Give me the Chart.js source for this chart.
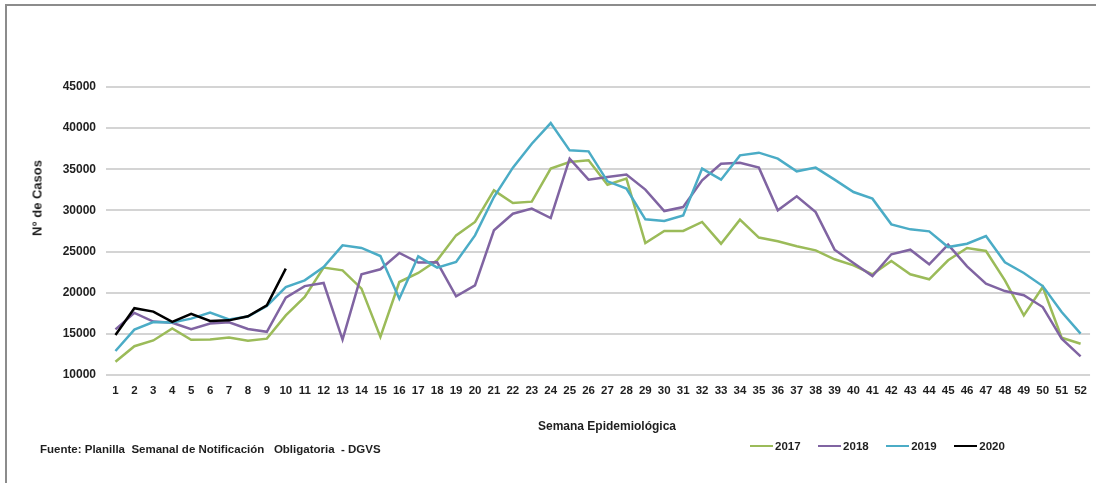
<!DOCTYPE html>
<html>
<head>
<meta charset="utf-8">
<script src="https://cdn.jsdelivr.net/npm/chart.js@4/dist/chart.umd.min.js"></script>
<style>
    body { margin: 0; width: 1096px; height: 483px; overflow: hidden; position: relative; background: #fff;
           font-family: 'Liberation Sans', Arial, sans-serif; font-weight: bold; color: #1f1f1f; }
    .frame { position: absolute; left: 5px; top: 4px; width: 1200px; height: 600px; border: 2px solid #8c8c8c; }
    #chart { position: absolute; left: 0; top: 0; }
    .txt { position: absolute; white-space: pre; }
    #y-title { left: 37px; top: 198px; font-size: 13px; transform: translate(-50%, -50%) rotate(-90deg); }
    #x-title { left: 607px; top: 426px; font-size: 12px; transform: translate(-50%, -50%); }
    #source { left: 40px; top: 449px; font-size: 11.5px; transform: translateY(-50%); }
    #legend { position: absolute; left: 750px; top: 446px; transform: translateY(-50%); display: flex; font-size: 11.5px; }
    .item { display: flex; align-items: center; margin-right: 17.5px; }
    .item span.line { display: inline-block; width: 23px; height: 2.5px; margin-right: 2px; }
</style>
</head>
<body>
<div class="frame"></div>
<canvas id="chart" width="1096" height="483"></canvas>
<div class="txt" id="y-title">N° de Casos</div>
<div class="txt" id="x-title">Semana Epidemiológica</div>
<div class="txt" id="source">Fuente: Planilla  Semanal de Notificación   Obligatoria  - DGVS</div>
<div id="legend"></div>

<script>
const weeks = ["1", "2", "3", "4", "5", "6", "7", "8", "9", "10", "11", "12", "13",
               "14", "15", "16", "17", "18", "19", "20", "21", "22", "23", "24", "25", "26",
               "27", "28", "29", "30", "31", "32", "33", "34", "35", "36", "37", "38", "39",
               "40", "41", "42", "43", "44", "45", "46", "47", "48", "49", "50", "51", "52"];

const cases2017 = [11600, 13500, 14200, 15650, 14280, 14300, 14550, 14150, 14420, 17250,
                   19480, 23050, 22720, 20500, 14620, 21300, 22400, 23940, 26970, 28600,
                   32440, 30900, 31070, 35080, 35880, 36090, 33130, 33860, 26040, 27500,
                   27500, 28600, 25960, 28880, 26700, 26250, 25640, 25150, 24060, 23330,
                   22240, 23860, 22240, 21630, 23940, 25440, 25070, 21500, 17250, 20690,
                   14540, 13800];

const cases2018 = [15550, 17550, 16500, 16350, 15580, 16250, 16400, 15600, 15250, 19400,
                   20800, 21180, 14300, 22240, 22850, 24830, 23660, 23700, 19560, 20900,
                   27580, 29600, 30220, 29080, 36290, 33740, 34060, 34350, 32530, 29930,
                   30410, 33650, 35680, 35800, 35200, 30010, 31710, 29800, 25230, 23610,
                   22030, 24670, 25230, 23450, 25850, 23210, 21100, 20200, 19690, 18260,
                   14420, 12270];

const cases2019 = [12920, 15520, 16440, 16380, 16850, 17580, 16750, 17100, 18400, 20690,
                   21500, 23120, 25760, 25440, 24460, 19280, 24420, 23050, 23730, 26970,
                   31630, 35200, 38110, 40620, 37300, 37180, 33540, 32650, 28920, 28710,
                   29400, 35080, 33740, 36690, 37020, 36290, 34750, 35200, 33740, 32240,
                   31430, 28310, 27700, 27460, 25550, 25960, 26890, 23690, 22400, 20810,
                   17660, 15030];

const cases2020 = [14850, 18120, 17700, 16450, 17420, 16560, 16640, 17130, 18470, 22930];

const yTicks = [10000, 15000, 20000, 25000, 30000, 35000, 40000, 45000];

const gridColor = '#d4d4d4';
const textColor = '#1f1f1f';

const series = [
    { label: '2017', data: cases2017, color: '#9bbb59', order: 3 },
    { label: '2018', data: cases2018, color: '#8064a2', order: 2 },
    { label: '2019', data: cases2019, color: '#4bacc6', order: 1 },
    { label: '2020', data: cases2020, color: '#000000', order: 0 }
];

new Chart(document.getElementById('chart'), {
    type: 'line',
    data: {
        labels: weeks,
        datasets: series.map(s => ({
            label: s.label,
            data: s.data,
            borderColor: s.color,
            backgroundColor: s.color,
            borderWidth: 2.5,
            pointRadius: 0,
            tension: 0,
            order: s.order
        }))
    },
    options: {
        responsive: false,
        animation: false,
        devicePixelRatio: 1,
        layout: {
            padding: { top: 87, right: 1, left: 0, bottom: 0 }
        },
        plugins: {
            legend: { display: false },
            tooltip: { enabled: false }
        },
        scales: {
            x: {
                offset: true,
                grid: { display: false, drawTicks: false },
                border: { display: false },
                ticks: {
                    color: textColor,
                    padding: 9,
                    maxRotation: 0,
                    autoSkip: false,
                    font: { family: 'Liberation Sans', size: 11.5, weight: 'bold' }
                },
                afterFit: (scale) => { scale.height = 108; }
            },
            y: {
                min: yTicks[0],
                max: yTicks[yTicks.length - 1],
                afterBuildTicks: (scale) => { scale.ticks = yTicks.map(v => ({ value: v })); },
                grid: { color: gridColor, lineWidth: 2, drawTicks: false },
                border: { display: false },
                ticks: {
                    color: textColor,
                    padding: 10,
                    callback: (value) => String(value),
                    font: { family: 'Liberation Sans', size: 12, weight: 'bold' }
                },
                afterFit: (scale) => { scale.width = 106; }
            }
        }
    }
});

let legend = document.getElementById('legend');
series.forEach(s => {
    let item = document.createElement('div');
    item.className = 'item';
    item.innerHTML = `<span class="line" style="background:${s.color}"></span>${s.label}`;
    legend.appendChild(item);
});
</script>
</body>
</html>
